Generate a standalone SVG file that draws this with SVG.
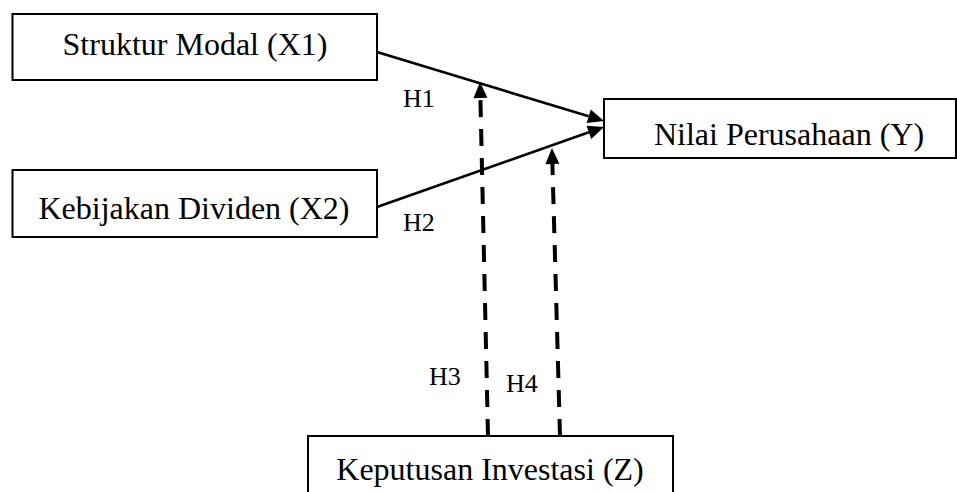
<svg xmlns="http://www.w3.org/2000/svg" width="957" height="492" viewBox="0 0 957 492">
<style>
.box{fill:#fff;stroke:#000;stroke-width:2}
.t{font-family:"Liberation Serif","Times New Roman",serif;font-size:32px;fill:#000}
.lbl{font-family:"Liberation Serif","Times New Roman",serif;font-size:26px;fill:#000}
.solid{stroke:#000;stroke-width:2.6;fill:none}
.dash{stroke:#000;stroke-width:4;fill:none;stroke-dasharray:17 12}
</style>
<defs>
<marker id="ah" markerUnits="userSpaceOnUse" markerWidth="18" markerHeight="16" refX="0" refY="0" orient="auto" overflow="visible">
<path d="M0,-7 L16,0 L0,7 z" fill="#000"/>
</marker>
<marker id="ahd" markerUnits="userSpaceOnUse" markerWidth="18" markerHeight="16" refX="0" refY="0" orient="auto" overflow="visible">
<path d="M0,-7 L16,0 L0,7 z" fill="#000"/>
</marker>
</defs>
<rect width="957" height="492" fill="#fff"/>
<g id="x1">
<rect class="box" x="12.5" y="14" width="364.5" height="66"/>
<text class="t" x="195" y="55" text-anchor="middle">Struktur Modal (X1)</text>
</g>
<g id="x2">
<rect class="box" x="12.5" y="170" width="364.5" height="67"/>
<text class="t" x="194" y="219" text-anchor="middle">Kebijakan Dividen (X2)</text>
</g>
<g id="y">
<rect class="box" x="604" y="99" width="352" height="59"/>
<text class="t" x="789" y="145" text-anchor="middle">Nilai Perusahaan (Y)</text>
</g>
<g id="z">
<rect class="box" x="308" y="436" width="365" height="70"/>
<text class="t" x="490" y="480" text-anchor="middle">Keputusan Investasi (Z)</text>
</g>
<g id="connectors">
<line class="solid" x1="377" y1="52" x2="588.7" y2="116.3" marker-end="url(#ah)"/>
<line class="solid" x1="377" y1="207" x2="588.9" y2="132.3" marker-end="url(#ah)"/>
<line class="dash" x1="488" y1="436" x2="480.4" y2="98" marker-end="url(#ahd)"/>
<line class="dash" x1="560" y1="436" x2="552.4" y2="164" marker-end="url(#ahd)"/>
</g>
<g id="labels">
<text class="lbl" x="403" y="107">H1</text>
<text class="lbl" x="403" y="231">H2</text>
<text class="lbl" x="429" y="385">H3</text>
<text class="lbl" x="506" y="392">H4</text>
</g>
</svg>
